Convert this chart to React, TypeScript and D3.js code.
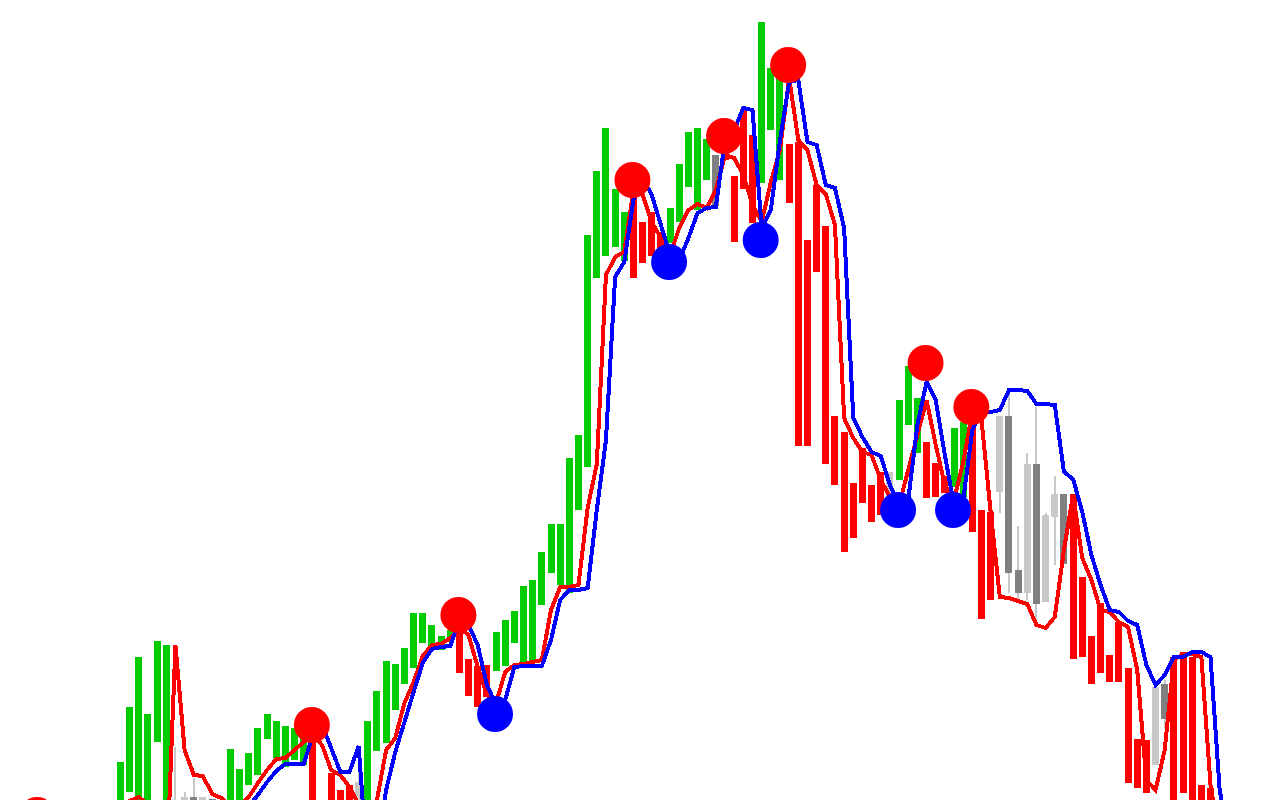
import React from "react";
import * as d3 from "d3";

const WIDTH = 1280;
const HEIGHT = 800;

// Candle state: G = up (green), R = down (red), L = neutral light, D = neutral dark
const STATE = [
  "G","G","G","G","G","G","L","L","D","L",
  "D","L","G","G","G","G","G","G","G","G",
  "G","R","R","R","R","R","L","G","G","G",
  "G","G","G","G","G","G","G","R","R","R",
  "R","G","G","G","G","G","G","G","G","G",
  "G","G","G","G","G","G","R","R","R","R",
  "G","G","G","G","G","D","R","R","R","R",
  "G","G","G","R","R","R","R","R","R","R",
  "R","R","R","R","L","G","G","G","R","R",
  "R","G","G","R","R","R","L","D","D","L",
  "D","L","L","D","R","R","R","R","R","R",
  "R","R","R","L","D","R","R","R","R","R",
];

const OPEN = [
  190,208,190,190,258,190,180,185,203,185,
  201,180,190,190,215,225,261,242,233,240,
  235,270,192,227,210,215,185,190,249,257,
  290,316,332,357,350,350,358,368,341,334,
  335,329,334,357,333,339,395,427,415,407,
  490,533,722,744,753,739,810,778,788,768,
  757,778,813,790,820,845,862,824,891,865,
  817,870,820,856,858,760,815,774,584,568,
  517,552,515,528,495,520,575,547,558,537,
  524,513,503,585,490,488,508,584,430,407,
  536,398,483,506,506,423,364,397,345,378,
  332,261,260,235,316,343,348,343,215,212,
];

const CLOSE = [
  238,293,343,286,359,355,195,203,185,203,
  185,192,251,231,247,272,286,279,274,272,
  263,185,175,185,185,185,218,279,309,339,
  336,352,387,387,375,364,370,327,304,293,
  303,368,380,389,414,420,448,476,476,542,
  565,765,829,872,811,788,722,737,744,744,
  792,836,868,872,861,794,840,758,811,777,
  978,932,925,797,554,554,728,536,515,448,
  462,497,478,485,528,600,634,602,502,503,
  507,572,578,468,381,400,584,427,407,536,
  396,485,506,436,341,343,316,327,318,318,
  217,212,207,313,281,190,207,190,190,190,
];

const HIGH = [
  238,293,343,286,359,355,253,208,222,203,
  201,192,251,231,247,272,286,279,274,272,
  263,270,192,227,210,215,233,279,309,339,
  336,352,387,387,375,364,370,368,341,334,
  335,368,380,389,414,420,448,476,476,542,
  565,765,829,872,811,788,810,778,788,768,
  792,836,868,872,861,845,862,824,891,865,
  978,932,925,856,858,760,815,774,584,568,
  517,552,515,528,528,600,634,602,558,537,
  524,572,578,585,490,488,584,607,474,547,
  593,487,524,506,506,423,364,397,345,378,
  332,261,260,313,320,343,348,343,215,212,
];

const LOW = [
  190,208,190,190,258,190,180,185,185,185,
  185,180,190,190,215,225,261,242,233,240,
  235,185,175,185,185,185,185,190,249,257,
  290,316,332,357,350,350,358,327,304,293,
  303,329,334,357,333,339,395,427,415,407,
  490,533,722,744,753,739,722,737,744,744,
  757,778,813,790,820,794,840,758,811,777,
  817,870,820,797,554,554,728,536,515,448,
  462,497,478,485,495,520,575,547,502,503,
  507,513,503,468,381,400,487,407,400,400,
  375,398,435,436,341,343,316,327,318,318,
  217,212,207,235,272,190,207,190,190,190,
];

// Fast (red) and slow (blue) trend lines, one value per bar index (null = no value)
const RED_LINE: (number | null)[] = [
  185,199,203,195,170,120,355,250,225,224,
  206,202,195,194,203,217,230,241,242,250,
  258,265,255,230,225,213,195,180,200,250,
  262,297,318,344,355,356,362,372,365,333,
  305,297,328,335,336,338,340,390,413,413,
  415,492,536,725,743,748,810,805,778,762,
  745,772,790,796,792,810,845,842,825,795,
  778,818,850,922,860,850,815,806,775,582,
  562,548,545,520,503,495,530,565,600,555,
  515,500,538,588,580,488,403,402,399,396,
  375,372,383,450,505,442,420,390,388,378,
  373,330,220,210,250,340,346,346,343,215,
  160,
];

const BLUE_LINE: (number | null)[] = [
  null,null,null,null,null,null,null,null,null,null,
  null,null,null,170,194,205,218,229,236,236,
  236,265,275,252,228,228,254,128,150,210,
  248,278,308,337,351,353,354,380,375,355,
  315,295,300,333,334,334,334,360,400,410,
  410,412,490,560,723,738,800,822,805,775,
  745,740,762,787,792,793,860,870,892,890,
  772,790,860,918,920,858,855,815,812,772,
  582,563,548,544,515,495,500,575,618,600,
  545,495,500,570,588,588,590,610,610,609,
  596,596,595,528,521,488,445,415,390,388,
  379,375,335,315,325,343,343,348,348,343,
  210,160,
];

// Swing markers: bar index and level
const PEAK_INDEX = [-9, 21, 37, 56, 66, 73, 88, 93];
const PEAK_LEVEL = [185, 275, 385, 820, 864, 935, 637, 593];
const TROUGH_INDEX = [41, 60, 70, 85, 91];
const TROUGH_LEVEL = [286, 738, 760, 490, 490];

const COLORS: Record<string, string> = {
  G: "#00cc00",
  R: "#ff0000",
  L: "#c8c8c8",
  D: "#808080",
};

export default function App() {
  const x = d3.scaleLinear().domain([0, 119]).range([120.5, 1210.5]);
  const y = d3.scaleLinear().domain([200, 1000]).range([800, 0]);
  const barW = 7;

  const line = d3
    .line<number | null>()
    .defined((d) => d != null)
    .x((_, i) => x(i))
    .y((d) => y(d as number));

  return (
    <svg
      width={WIDTH}
      height={HEIGHT}
      style={{ position: "absolute", left: 0, top: 0, display: "block", background: "#ffffff" }}
    >
      <rect x={0} y={0} width={WIDTH} height={HEIGHT} fill="#ffffff" />
      <g shapeRendering="crispEdges">
        {OPEN.map((_, i) => (
          <rect
            key={"w" + i}
            x={x(i) - 1}
            width={2}
            y={y(HIGH[i])}
            height={Math.max(0, y(LOW[i]) - y(HIGH[i]))}
            fill="#c8c8c8"
          />
        ))}
        {OPEN.map((o, i) => {
          const c = CLOSE[i];
          const top = y(Math.max(o, c));
          const bot = y(Math.min(o, c));
          return (
            <rect
              key={"b" + i}
              x={x(i) - barW / 2}
              width={barW}
              y={top}
              height={Math.max(1, bot - top)}
              fill={COLORS[STATE[i]]}
            />
          );
        })}
        <path d={line(RED_LINE) || ""} fill="none" stroke="#ff0000" strokeWidth={4} />
        <path d={line(BLUE_LINE) || ""} fill="none" stroke="#0000ff" strokeWidth={4} />
      </g>
      <g>
        {PEAK_INDEX.map((idx, k) => (
          <circle key={"p" + k} cx={x(idx) - 1} cy={y(PEAK_LEVEL[k])} r={18} fill="#ff0000" />
        ))}
        {TROUGH_INDEX.map((idx, k) => (
          <circle key={"t" + k} cx={x(idx) - 1} cy={y(TROUGH_LEVEL[k])} r={18} fill="#0000ff" />
        ))}
      </g>
    </svg>
  );
}
